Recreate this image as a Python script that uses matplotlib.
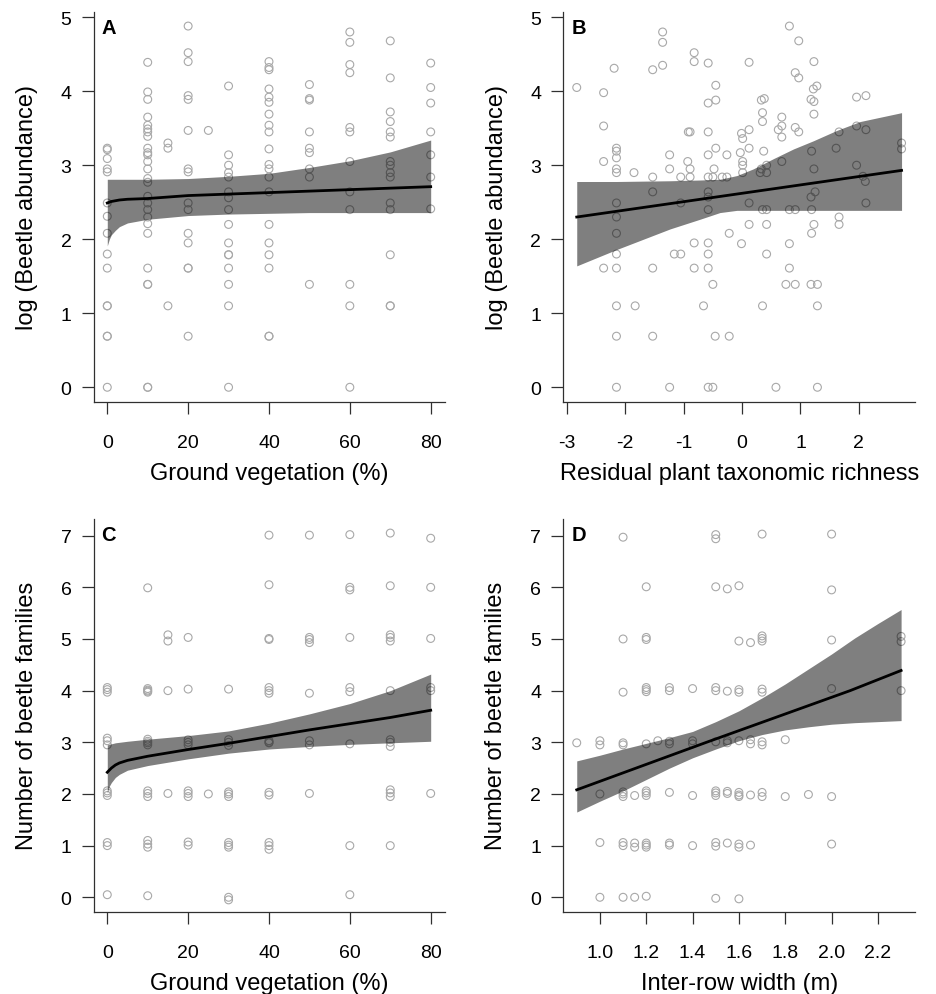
import matplotlib
matplotlib.use("Agg")
import matplotlib.pyplot as plt
import numpy as np

plt.rcParams['font.family'] = ['Liberation Sans', 'DejaVu Sans']
plt.rcParams['axes.unicode_minus'] = False

# ---------------- Panel A data: ground vegetation (%) vs log(beetle abundance)
a_x_levels = [0, 10, 15, 20, 25, 30, 40, 50, 60, 70, 80]
a_y_by_level = [
    [3.23, 3.21, 3.09, 2.95, 2.91, 2.49, 2.31, 2.08, 1.80, 1.61, 1.10, 1.10, 0.69, 0.69, 0.0],
    [4.39, 3.99, 3.89, 3.65, 3.54, 3.49, 3.45, 3.39, 3.23, 3.17, 3.14, 3.05, 2.95, 2.82, 2.77,
     2.58, 2.49, 2.40, 2.30, 2.21, 2.08, 1.61, 1.39, 1.39, 0.0, 0.0],
    [3.30, 3.23, 1.10],
    [4.88, 4.52, 4.40, 3.94, 3.89, 3.47, 2.95, 2.91, 2.49, 2.40, 2.08, 1.95, 1.61, 1.61, 0.69],
    [3.47],
    [4.07, 3.14, 3.00, 2.90, 2.84, 2.64, 2.56, 2.40, 2.20, 1.95, 1.79, 1.79, 1.61, 1.39, 1.10, 0.0],
    [4.40, 4.32, 4.29, 4.03, 3.92, 3.85, 3.69, 3.54, 3.45, 3.22, 3.01, 2.95, 2.84, 2.64, 2.20,
     1.95, 1.79, 1.61, 0.69, 0.69],
    [4.09, 3.90, 3.88, 3.45, 3.23, 3.17, 2.95, 2.84, 1.39],
    [4.80, 4.66, 4.36, 4.25, 3.51, 3.45, 3.05, 2.64, 2.40, 1.39, 1.10, 0.0],
    [4.68, 4.18, 3.72, 3.59, 3.45, 3.38, 3.05, 3.00, 2.90, 2.84, 2.49, 2.40, 1.79, 1.10, 1.10],
    [4.38, 4.05, 3.84, 3.45, 3.14, 2.84, 2.41],
]
a_fit_x = [0, 0.5, 1, 2, 3, 5, 10, 20, 30, 40, 50, 60, 70, 80]
a_fit_y = [2.49, 2.50, 2.51, 2.52, 2.53, 2.54, 2.55, 2.59, 2.61, 2.63, 2.65, 2.67, 2.69, 2.71]
a_fit_hi = [2.81, 2.81, 2.81, 2.81, 2.81, 2.81, 2.81, 2.82, 2.85, 2.89, 2.97, 3.06, 3.18, 3.34]
a_fit_lo = [1.91, 2.00, 2.06, 2.12, 2.17, 2.22, 2.27, 2.32, 2.34, 2.35, 2.36, 2.36, 2.36, 2.36]

# ---------------- Panel B data: residual plant taxonomic richness vs log(beetle abundance)
b_x = [-2.83, -2.37, -2.37, -2.37, -2.19, -2.15, -2.15, -2.15, -2.15, -2.15, -2.15, -2.15, -2.15,
       -1.85, -1.53, -1.36, -1.36, -1.36, -1.53, -1.53, -1.24, -1.24, -1.05, -1.05, -0.93, -0.92,
       -0.89, -0.89, -0.89, -0.82, -0.82, -0.58, -0.58, -0.58, -0.58, -0.58, -0.58, -0.58, -0.58,
       -0.45, -0.45, -0.45, -0.48, -0.50, -0.34, -0.26, -0.26, -0.22, -0.03, -0.01, 0.01, 0.01,
       0.01, 0.01, 0.12, 0.12, 0.12, 0.12, 0.12, -0.01, 0.31, 0.33, 0.33, 0.38, 0.35, 0.35, 0.37,
       0.42, 0.42, 0.35, 0.42, 0.42, 0.68, 0.68, 0.62, 0.68, 0.68, 0.81, 0.97, 0.91, 0.97, 0.91,
       0.97, 0.81, 0.91, 0.81, 1.23, 1.22, 1.28, 1.18, 1.23, 1.23, 1.19, 1.23, 1.25, 1.18, 1.19,
       1.23, 1.19, 1.66, 1.61, 1.66, 1.66, 1.96, 2.12, 1.96, 2.12, 1.96, 2.07, 2.11, 2.12, 2.73,
       2.73,
       -0.82, -0.58, -2.15, -1.16, -1.05, -0.58, 0.42, -2.37, -2.15, -1.53, -0.82, -0.58, 0.81,
       -0.50, 0.75, 0.91, 1.18, 1.29, -2.15, -1.83, -0.66, 0.35, 1.29, -2.15, -1.53, -0.46, -0.22,
       -2.15, -1.24, -0.58, -0.50, 0.58, 1.29]
b_y = [4.05, 3.98, 3.53, 3.05, 4.31, 3.23, 3.19, 3.10, 2.95, 2.90, 2.49, 2.30, 2.08,
       2.90, 4.29, 4.80, 4.66, 4.35, 2.84, 2.64, 3.14, 2.95, 2.84, 2.49, 3.05, 3.45,
       3.45, 2.95, 2.84, 4.52, 4.40, 4.38, 3.84, 3.45, 3.14, 2.84, 2.64, 2.57, 2.40,
       4.08, 3.88, 3.23, 2.95, 2.84, 2.84, 2.84, 3.14, 2.08, 3.17, 3.43, 3.36, 3.05,
       3.00, 2.90, 4.39, 3.48, 3.23, 2.49, 2.20, 1.94, 2.90, 2.95, 3.88, 3.90, 3.71, 3.59, 3.19,
       3.00, 2.90, 2.40, 2.40, 2.20, 3.65, 3.53, 3.48, 3.38, 3.05, 4.88, 4.68, 4.25, 4.18, 3.51,
       3.45, 2.40, 2.40, 1.94, 4.40, 4.03, 4.07, 3.89, 3.86, 3.69, 3.19, 2.95, 2.64, 2.57, 2.40,
       2.20, 2.08, 3.45, 3.23, 2.30, 2.20, 3.92, 3.94, 3.53, 3.48, 3.00, 2.85, 2.78, 2.49, 3.30,
       3.22,
       1.95, 1.95, 1.80, 1.80, 1.80, 1.80, 1.80, 1.61, 1.61, 1.61, 1.61, 1.61, 1.61,
       1.39, 1.39, 1.39, 1.39, 1.39, 1.10, 1.10, 1.10, 1.10, 1.10, 0.69, 0.69, 0.69, 0.69,
       0.0, 0.0, 0.0, 0.0, 0.0, 0.0]
b_fit_x = [-2.83, -2.15, -1.23, -0.72, -0.38, -0.09, 0.19, 0.54, 0.88, 1.22, 1.62, 2.02, 2.73]
b_fit_hi = [2.78, 2.78, 2.79, 2.80, 2.81, 2.86, 2.95, 3.09, 3.22, 3.33, 3.47, 3.59, 3.71]
b_fit_lo = [1.64, 1.86, 2.14, 2.27, 2.36, 2.39, 2.39, 2.39, 2.39, 2.39, 2.39, 2.39, 2.39]
b_line_x = [-2.83, 2.73]
b_line_y = [2.30, 2.93]

# ---------------- Panel C data: ground vegetation (%) vs number of beetle families
c_x_levels = [0, 10, 15, 20, 25, 30, 40, 50, 60, 70, 80]
c_y_by_level = [
    [4.06, 4.02, 3.97, 3.08, 3.03, 2.95, 2.06, 2.02, 1.97, 1.06, 1.00, 0.05],
    [5.99, 4.04, 4.01, 3.99, 3.97, 3.06, 3.02, 2.99, 2.95, 2.06, 2.01, 1.95, 1.10, 1.03, 0.97, 0.03],
    [5.08, 4.96, 4.00, 2.01],
    [5.03, 4.03, 3.05, 3.00, 2.95, 2.06, 2.01, 1.95, 1.07, 1.01],
    [2.00],
    [4.03, 3.05, 3.00, 2.94, 2.04, 2.00, 1.95, 1.06, 1.01, 0.97, 0.00, -0.05],
    [7.01, 6.05, 5.01, 4.99, 4.06, 4.00, 3.95, 3.03, 3.00, 2.99, 2.03, 1.98, 1.06, 1.00, 0.93],
    [7.01, 5.03, 4.99, 4.93, 3.95, 3.03, 2.95, 2.01],
    [7.02, 6.00, 5.95, 5.03, 4.06, 3.98, 2.97, 1.00, 0.05],
    [7.05, 6.03, 5.08, 5.03, 4.96, 4.00, 3.05, 3.00, 2.92, 2.08, 2.02, 1.95, 1.00],
    [6.95, 6.00, 5.01, 4.06, 4.00, 2.01],
]
c_fit_x = [0, 0.5, 1, 2, 3, 5, 10, 20, 30, 40, 50, 60, 70, 80]
c_fit_y = [2.42, 2.46, 2.50, 2.56, 2.60, 2.65, 2.73, 2.86, 2.98, 3.11, 3.24, 3.36, 3.48, 3.62]
c_fit_hi = [2.95, 2.96, 2.97, 2.99, 3.00, 3.02, 3.06, 3.13, 3.22, 3.37, 3.55, 3.75, 4.00, 4.32]
c_fit_lo = [2.02, 2.15, 2.22, 2.32, 2.38, 2.46, 2.55, 2.68, 2.79, 2.87, 2.92, 2.96, 2.99, 3.02]

# ---------------- Panel D data: inter-row width (m) vs number of beetle families
d_x_levels = [0.9, 1.0, 1.1, 1.15, 1.2, 1.25, 1.3, 1.4, 1.5, 1.55, 1.6, 1.65, 1.7, 1.8, 1.9, 2.0, 2.3]
d_y_by_level = [
    [2.99],
    [3.03, 2.95, 2.00, 1.06, 0.0],
    [6.97, 5.00, 3.97, 2.99, 2.95, 2.04, 2.00, 1.95, 1.06, 1.00, 0.0],
    [1.97, 1.05, 0.97, 0.0],
    [6.01, 5.03, 4.99, 4.06, 4.02, 3.98, 2.97, 2.06, 2.02, 1.97, 1.05, 1.01, 0.97, 0.02],
    [3.03],
    [4.06, 4.00, 3.02, 2.97, 2.03, 1.05, 1.01],
    [4.04, 3.03, 2.97, 1.97, 1.00],
    [7.02, 6.94, 6.01, 4.06, 4.00, 3.01, 2.06, 2.02, 1.97, 1.06, 0.99, -0.02],
    [5.97, 3.99, 3.03, 2.99, 2.05, 2.01, 1.05],
    [6.03, 4.96, 4.02, 3.97, 3.03, 2.03, 1.98, 1.95, 1.03, 0.97, -0.03],
    [4.93, 3.05, 2.97, 1.98, 1.01],
    [7.03, 5.06, 5.01, 4.96, 4.03, 3.97, 3.01, 2.95, 2.03, 1.95],
    [3.05, 1.95],
    [1.99],
    [7.03, 5.95, 4.98, 4.04, 1.95, 1.03],
    [5.05, 4.95, 4.00],
]
d_fit_x = [0.9, 1.0, 1.1, 1.2, 1.3, 1.4, 1.5, 1.6, 1.7, 1.8, 1.9, 2.0, 2.1, 2.2, 2.3]
d_fit_hi = [2.64, 2.75, 2.87, 2.98, 3.09, 3.21, 3.40, 3.61, 3.86, 4.13, 4.42, 4.71, 5.02, 5.30, 5.57]
d_fit_lo = [1.65, 1.86, 2.06, 2.28, 2.50, 2.70, 2.87, 3.03, 3.15, 3.24, 3.30, 3.35, 3.38, 3.40, 3.42]
d_line_x = [0.9, 1.46, 2.08, 2.3]
d_line_y = [2.08, 3.00, 4.00, 4.39]

# ---------------- Labels / ticks
panel_letters = ['A', 'B', 'C', 'D']
x_labels = ['Ground vegetation (%)', 'Residual plant taxonomic richness',
            'Ground vegetation (%)', 'Inter-row width (m)']
y_labels = ['log (Beetle abundance)', 'log (Beetle abundance)',
            'Number of beetle families', 'Number of beetle families']
a_xticks = [0, 20, 40, 60, 80]
b_xticks = [-3, -2, -1, 0, 1, 2]
d_xticks = [1.0, 1.2, 1.4, 1.6, 1.8, 2.0, 2.2]
d_xticklabels = ['1.0', '1.2', '1.4', '1.6', '1.8', '2.0', '2.2']
ab_yticks = [0, 1, 2, 3, 4, 5]
cd_yticks = [0, 1, 2, 3, 4, 5, 6, 7]


def flatten(levels, ys):
    xs, yy = [], []
    for lv, col in zip(levels, ys):
        for v in col:
            xs.append(lv)
            yy.append(v)
    return xs, yy


W, H = 936, 995
fig = plt.figure(figsize=(W / 100, H / 100), dpi=100)

PT = 0.72  # points per pixel at 100 dpi
boxes = [(93.5, 13, 445, 402.7), (563.3, 13, 915, 402.7),
         (93.5, 519.6, 445, 912.7), (563.3, 519.6, 915, 912.7)]
axes = []
for (l, t, r, b) in boxes:
    ax = fig.add_axes([l / W, 1 - b / H, (r - l) / W, (b - t) / H])
    axes.append(ax)

PT_COLOR = '#a8a8a8'
SPINE = '#303030'


def style(ax):
    for s in ['top', 'right']:
        ax.spines[s].set_visible(False)
    for s in ['left', 'bottom']:
        ax.spines[s].set_color(SPINE)
        ax.spines[s].set_linewidth(0.9)
    ax.tick_params(axis='both', direction='out', length=12 * PT, width=0.9, color=SPINE,
                   labelsize=14, labelcolor='black')
    ax.tick_params(axis='x', pad=20.3 * PT)
    ax.tick_params(axis='y', pad=10 * PT)


def scatter(ax, xs, ys):
    ax.scatter(xs, ys, s=32, facecolors='none', edgecolors=PT_COLOR, linewidths=0.8, zorder=1)


# Panel A
ax = axes[0]
xs, ys = flatten(a_x_levels, a_y_by_level)
scatter(ax, xs, ys)
ax.fill_between(a_fit_x, a_fit_lo, a_fit_hi, color='black', alpha=0.5, linewidth=0, zorder=2)
ax.plot(a_fit_x, a_fit_y, color='black', lw=2.0, zorder=3)
ax.set_xlim(-3.41, 83.54)
ax.set_ylim(-0.195, 5.07)
ax.set_xticks(a_xticks)
ax.set_yticks(ab_yticks)

# Panel B
ax = axes[1]
scatter(ax, b_x, b_y)
ax.fill_between(b_fit_x, b_fit_lo, b_fit_hi, color='black', alpha=0.5, linewidth=0, zorder=2)
ax.plot(b_line_x, b_line_y, color='black', lw=2.0, zorder=3)
ax.set_xlim(-3.06, 2.96)
ax.set_ylim(-0.195, 5.07)
ax.set_xticks(b_xticks)
ax.set_yticks(ab_yticks)

# Panel C
ax = axes[2]
xs, ys = flatten(c_x_levels, c_y_by_level)
scatter(ax, xs, ys)
ax.fill_between(c_fit_x, c_fit_lo, c_fit_hi, color='black', alpha=0.5, linewidth=0, zorder=2)
ax.plot(c_fit_x, c_fit_y, color='black', lw=2.0, zorder=3)
ax.set_xlim(-3.41, 83.54)
ax.set_ylim(-0.279, 7.33)
ax.set_xticks(a_xticks)
ax.set_yticks(cd_yticks)

# Panel D
ax = axes[3]
xs, ys = flatten(d_x_levels, d_y_by_level)
scatter(ax, xs, ys)
ax.fill_between(d_fit_x, d_fit_lo, d_fit_hi, color='black', alpha=0.5, linewidth=0, zorder=2)
ax.plot(d_line_x, d_line_y, color='black', lw=2.0, zorder=3)
ax.set_xlim(0.842, 2.36)
ax.set_ylim(-0.279, 7.33)
ax.set_xticks(d_xticks)
ax.set_xticklabels(d_xticklabels)
ax.set_yticks(cd_yticks)

for ax in axes:
    style(ax)

# Text: panel letters and axis labels (figure-pixel positions)
for i, (l, t, r, b) in enumerate(boxes):
    fig.text((l + 8) / W, 1 - (t + 21.5) / H, panel_letters[i], fontsize=14.5,
             fontweight='bold', ha='left', va='baseline')
    fig.text(((l + r) / 2) / W, 1 - (b + 77.3) / H, x_labels[i], fontsize=17,
             ha='center', va='baseline')
    fig.text((l - 60.8) / W, 1 - ((t + b) / 2) / H, y_labels[i], fontsize=17,
             rotation=90, rotation_mode='anchor', ha='center', va='baseline')

fig.savefig('out.png', dpi=100)
